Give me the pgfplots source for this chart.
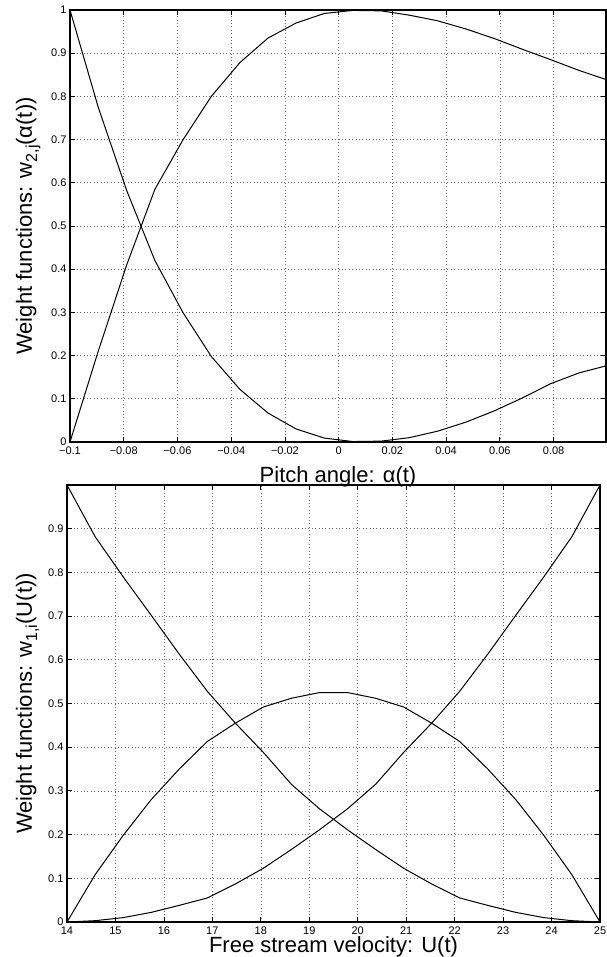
\documentclass[border=0pt]{standalone}
\usepackage{fontspec}
\setmainfont{Liberation Sans}
\usepackage{pgfplots}
\usepackage{pgfplotstable}
\pgfplotsset{compat=1.18}

\newcommand\sub[1]{\raisebox{-0.45ex}{\fontsize{16}{16}\selectfont #1}}

% pitch angle weights (top)
\pgfplotstableread{
x        dec    inc
-0.1     1.000  0.000
-0.0895  0.775  0.210
-0.0789  0.582  0.410
-0.0684  0.420  0.585
-0.0579  0.299  0.700
-0.0474  0.198  0.800
-0.0368  0.122  0.878
-0.0263  0.067  0.935
-0.0158  0.030  0.970
-0.0053  0.009  0.992
0.0053   0.001  0.999
0.0158   0.002  0.998
0.0263   0.010  0.988
0.0368   0.025  0.975
0.0474   0.046  0.956
0.0579   0.072  0.934
0.0684   0.102  0.909
0.0789   0.135  0.885
0.0895   0.160  0.860
0.1      0.177  0.838
}\pitchtab

% free stream velocity weights (bottom)
\pgfplotstableread{
x        a      b      c
14       1.000  0.000  0.000
14.579   0.882  0.108  0.003
15.158   0.790  0.198  0.010
15.737   0.702  0.280  0.022
16.316   0.613  0.350  0.038
16.895   0.528  0.413  0.055
17.474   0.455  0.455  0.087
18.053   0.388  0.492  0.123
18.632   0.315  0.512  0.166
19.211   0.259  0.525  0.211
19.789   0.211  0.525  0.259
20.368   0.166  0.512  0.315
20.947   0.123  0.492  0.388
21.526   0.087  0.455  0.455
22.105   0.055  0.413  0.528
22.684   0.038  0.350  0.613
23.263   0.022  0.280  0.702
23.842   0.010  0.198  0.790
24.421   0.003  0.108  0.882
25       0.000  0.000  1.000
}\velotab

\pgfplotsset{
  mstyle/.style={
    scale only axis,
    axis line style={line width=1.1pt},
    tick align=inside,
    major tick length=5pt,
    tick style={line width=0.8pt, black},
    grid=major,
    grid style={line width=0.6pt, black!60, dash pattern=on 0.8pt off 2.6pt},
    ticklabel style={font=\fontsize{11}{12}\selectfont},
    xticklabel style={yshift=-1pt},
    label style={font=\fontsize{22}{24}\selectfont},
    cycle list={{black}},
    every axis plot/.append style={mark=none, line width=1pt},
    ymin=0, ymax=1,
  }
}

\begin{document}
\begin{tikzpicture}[x=1pt,y=1pt]
\path[use as bounding box] (0,0) rectangle (606,957);

\begin{axis}[mstyle,
  at={(70pt,515pt)}, anchor=south west,
  width=536pt, height=432pt,
  xmin=-0.1, xmax=0.0995,
  xtick={-0.1,-0.08,-0.06,-0.04,-0.02,0,0.02,0.04,0.06,0.08},
  xticklabels={−0.1,−0.08,−0.06,−0.04,−0.02,0,0.02,0.04,0.06,0.08},
  ytick={0,0.1,0.2,0.3,0.4,0.5,0.6,0.7,0.8,0.9,1},
  yticklabels={0,0.1,0.2,0.3,0.4,0.5,0.6,0.7,0.8,0.9,1},
  xlabel={Pitch angle: α(t)},
  ylabel={Weight functions: w\sub{2,j}(α(t))},
  xlabel style={at={(axis description cs:0.5,-0.093)}, anchor=base},
  ylabel style={at={(axis description cs:-0.071,0.5)}, anchor=base},
]
\addplot table[x=x, y=dec] {\pitchtab};
\addplot table[x=x, y=inc] {\pitchtab};
\end{axis}

\begin{axis}[mstyle,
  at={(67pt,35pt)}, anchor=south west,
  width=533pt, height=437pt,
  xmin=14, xmax=25,
  xtick={14,15,...,25},
  xticklabels={14,15,16,17,18,19,20,21,22,23,24,25},
  ytick={0,0.1,0.2,0.3,0.4,0.5,0.6,0.7,0.8,0.9},
  yticklabels={0,0.1,0.2,0.3,0.4,0.5,0.6,0.7,0.8,0.9},
  xlabel={Free stream velocity: U(t)},
  ylabel={Weight functions: w\sub{1,i}(U(t))},
  xlabel style={at={(axis description cs:0.5,-0.069)}, anchor=base},
  ylabel style={at={(axis description cs:-0.066,0.5)}, anchor=base},
]
\addplot table[x=x, y=a] {\velotab};
\addplot table[x=x, y=b] {\velotab};
\addplot table[x=x, y=c] {\velotab};
\end{axis}
\end{tikzpicture}
\end{document}
